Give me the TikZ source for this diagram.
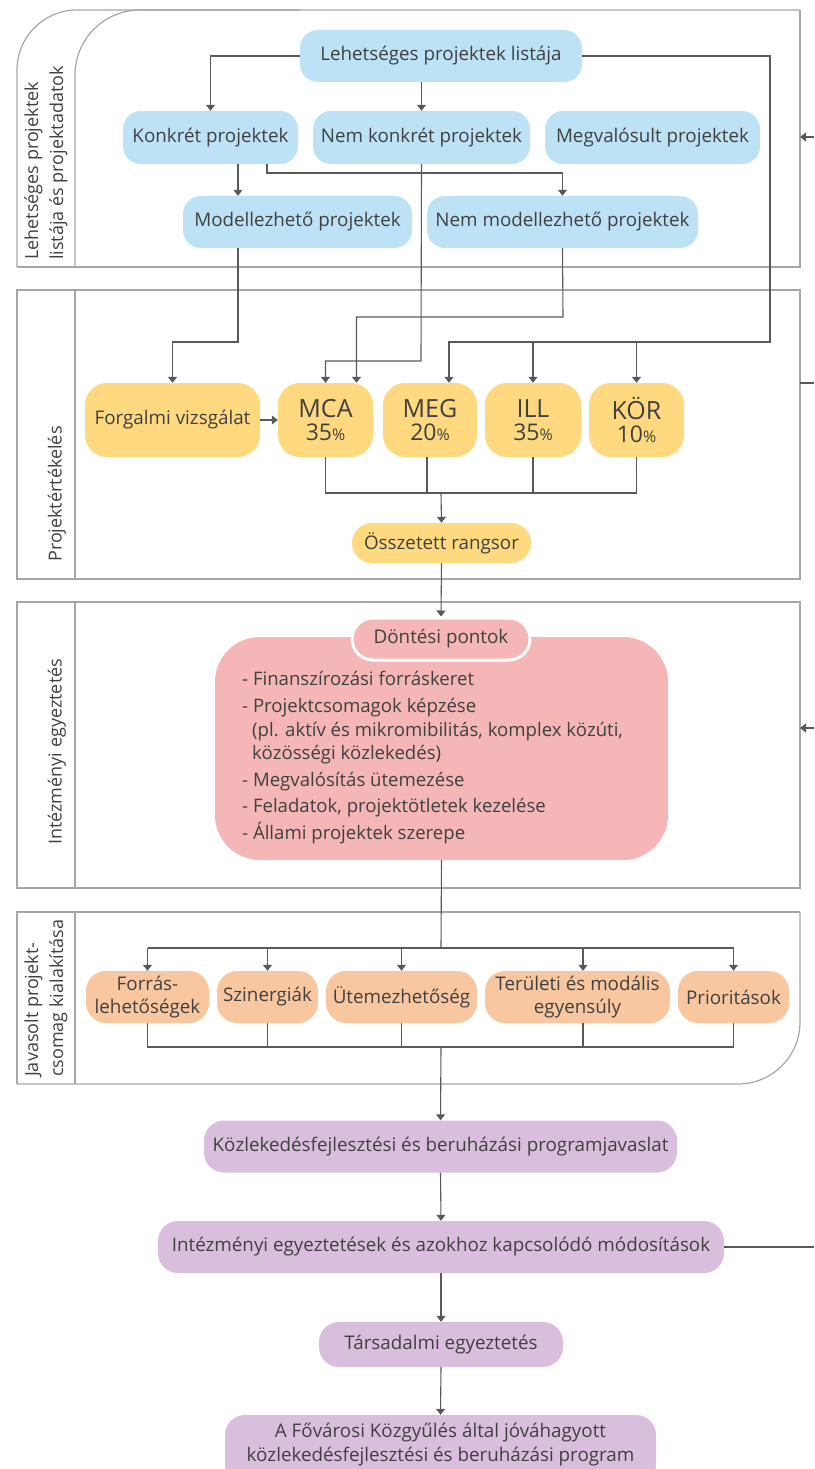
\documentclass[tikz,border=0pt]{standalone}
\usepackage{fontspec}
\setmainfont{Open Sans}
\usetikzlibrary{arrows.meta}
\definecolor{txt}{HTML}{404040}
\definecolor{blueF}{HTML}{BDE2F6}
\definecolor{yellowF}{HTML}{FFD980}
\definecolor{pinkF}{HTML}{F4B6B6}
\definecolor{orangeF}{HTML}{F8C7A0}
\definecolor{purpleF}{HTML}{D9BFDD}
\definecolor{frameC}{HTML}{A6A6A6}
\definecolor{connC}{HTML}{595959}
\newcommand\fsz[2]{\fontsize{#1}{#2}\selectfont}
\begin{document}
\begin{tikzpicture}[x=1pt,y=-1pt,
  basebox/.style={rounded corners=18, inner sep=0, align=center, text=txt, font=\fsz{18.8}{22.5}},
  bluebox/.style={basebox, fill=blueF},
  yelbox/.style={basebox, fill=yellowF, rounded corners=22},
  orbox/.style={basebox, fill=orangeF, rounded corners=20, minimum height=52},
  purbox/.style={basebox, fill=purpleF, rounded corners=20},
  framel/.style={draw=frameC, line width=1.2},
  conn/.style={draw=connC, line width=1.1, -{Triangle[width=9pt,length=6pt]}},
  line/.style={draw=connC, line width=1.1},
  lanelabel/.style={rotate=90, anchor=west, inner sep=0, align=left, text=txt, font=\fsz{18}{25}}
]
\useasboundingbox (0,0) rectangle (814,1469);
\clip (0,0) rectangle (814,1469);

% ---------- lane frames ----------
\draw[framel, rounded corners=60] (17,267) -- (17,10) -- (800,10);
\draw[framel] (800,10) -- (800,267) -- (17,267);
\draw[framel, rounded corners=65] (75,267) -- (75,10) -- (300,10);
\draw[framel] (17,290) rectangle (800,579);
\draw[framel] (75,290) -- (75,579);
\draw[framel] (17,602) rectangle (800,888);
\draw[framel] (75,602) -- (75,888);
\draw[framel] (17,1084) -- (17,912) -- (800,912);
\draw[framel, rounded corners=62] (800,912) -- (800,1084) -- (17,1084);
\draw[framel] (75,912) -- (75,1084);

% lane labels
\node[lanelabel] (lab1) at (46,260) {Lehetséges projektek\\listája és projektadatok};
\node[lanelabel] (lab2) at (57,562) {Projektértékelés};
\node[lanelabel] (lab3) at (57,845) {Intézményi egyeztetés};
\node[lanelabel] (lab4) at (46,1077) {Javasolt projekt-\\csomag kialakítása};

% ---------- nodes ----------
\node[bluebox, minimum width=282, minimum height=52] (lpl) at (441,56) {Lehetséges projektek listája};
\node[bluebox, minimum width=175, minimum height=53] (kp) at (210.5,137.5) {Konkrét projektek};
\node[bluebox, minimum width=217, minimum height=53] (nkp) at (421.5,137.5) {Nem konkrét projektek};
\node[bluebox, minimum width=215, minimum height=53] (mgp) at (652.5,137.5) {Megvalósult projektek};
\node[bluebox, minimum width=229, minimum height=52] (mp) at (297.5,222) {Modellezhető projektek};
\node[bluebox, minimum width=271, minimum height=52] (nmp) at (562.5,222) {Nem modellezhető projektek};

\node[yelbox, minimum width=175, minimum height=74] (fv) at (172.5,420) {Forgalmi vizsgálat};
\node[yelbox, minimum width=95, minimum height=74] (mca) at (325.5,420) {{\fsz{25}{32}MCA}\\{\fsz{23}{32}35{\fsz{16}{16}\%}}};
\node[yelbox, minimum width=94, minimum height=74] (meg) at (430,420) {{\fsz{25}{32}MEG}\\{\fsz{23}{32}20{\fsz{16}{16}\%}}};
\node[yelbox, minimum width=96, minimum height=74] (ill) at (533,420) {{\fsz{25}{32}ILL}\\{\fsz{23}{32}35{\fsz{16}{16}\%}}};
\node[yelbox, minimum width=95, minimum height=74] (kor) at (636.5,420) {{\fsz{25}{32}KÖR}\\{\fsz{23}{32}10{\fsz{16}{16}\%}}};
\node[yelbox, rounded corners=20, minimum width=179, minimum height=40] (ors) at (441.5,543) {Összetett rangsor};

\node[basebox, fill=pinkF, rounded corners=45, minimum width=453, minimum height=223] (pb) at (441.5,748.5) {};
\node[basebox, fill=pinkF, draw=white, line width=3, rounded corners=21, minimum width=178, minimum height=42] (dp) at (441,639) {Döntési pontok};
\node[anchor=north west, inner sep=0, align=left, text=txt, font=\fsz{18.6}{23.5}] (list) at (242,671)
  {- Finanszírozási forráskeret\\[4pt]
   - Projektcsomagok képzése\\
   \hspace*{10pt}(pl. aktív és mikromibilitás, komplex közúti,\\
   \hspace*{10pt}közösségi közlekedés)\\[3pt]
   - Megvalósítás ütemezése\\[3pt]
   - Feladatok, projektötletek kezelése\\[3pt]
   - Állami projektek szerepe};

\node[orbox, minimum width=123] (or1) at (147.5,997) {Forrás-\\lehetőségek};
\node[orbox, minimum width=101] (or2) at (267.5,997) {Szinergiák};
\node[orbox, minimum width=151] (or3) at (401.5,997) {Ütemezhetőség};
\node[orbox, minimum width=185] (or4) at (577.5,997) {Területi és modális\\egyensúly};
\node[orbox, minimum width=111] (or5) at (733.5,997) {Prioritások};

\node[purbox, minimum width=473, minimum height=52] (kfp) at (440.5,1146.5) {Közlekedésfejlesztési és beruházási programjavaslat};
\node[purbox, minimum width=566, minimum height=52] (ie) at (441,1247) {Intézményi egyeztetések és azokhoz kapcsolódó módosítások};
\node[purbox, minimum width=244, minimum height=45] (te) at (441,1344.5) {Társadalmi egyeztetés};
\node[purbox, minimum width=431, minimum height=70] (fin) at (440.5,1450) {};
\node[inner sep=0, align=center, text=txt, font=\fsz{18.8}{24}] (fint) at (440.5,1445) {A Fővárosi Közgyűlés által jóváhagyott\\közlekedésfejlesztési és beruházási program};

% ---------- helper coordinates ----------
\coordinate (c238) at (238,0);
\coordinate (c267) at (267,0);
\coordinate (c427) at (427,0);
\coordinate (c583) at (583,0);
\coordinate (rt) at (770,342);
\coordinate (j1) at (421,361);
\coordinate (j2) at (563,317);
\coordinate (j3) at (238,342);
\coordinate (k1) at (267,173);
\coordinate (megin) at ([xshift=19]meg.north);
\coordinate (mcain) at ([xshift=31]mca.north);
\coordinate (sum1) at (441,493);
\coordinate (dist) at (441,948);
\coordinate (sum2) at (441,1047);
\coordinate (fb1) at (814,137);
\coordinate (fb1e) at (800,137);
\coordinate (fb2) at (814,383);
\coordinate (fb2e) at (800,383);
\coordinate (fb3) at (814,728);
\coordinate (fb3e) at (800,728);
\coordinate (fb4) at (814,1247);

% ---------- connectors ----------
\draw[conn] (lpl.west) -| (kp.north);
\draw[conn] (lpl.south -| nkp.north) -- (nkp.north);
\draw[conn] (lpl.east) -| (rt) -- (rt -| megin) -- (megin);
\draw[conn] (ill.north |- rt) -- (ill.north);
\draw[conn] (kor.north |- rt) -- (kor.north);
\draw[conn] (nkp.south) -- (j1) -| (mca.north);
\draw[conn] (nmp.south) -- (j2) -| (mcain);
\draw[conn] (kp.south -| c238) -- (mp.north -| c238);
\draw[conn] (kp.south -| c267) -- (k1) -| (nmp.north);
\draw[conn] (mp.south -| c238) -- (j3) -| (fv.north);
\draw[conn] (fv.east) -- (mca.west);

\draw[line] (mca.south) |- (sum1);
\draw[line] (kor.south) |- (sum1);
\draw[line] (meg.south -| c427) -- (sum1 -| c427);
\draw[line] (ill.south) -- (ill.south |- sum1);
\draw[conn] (sum1) -- (ors.north);
\draw[conn] (ors.south) -- (dp.north);

\draw[line] (pb.south) -- (dist);
\draw[line] (dist -| or1.north) -- (dist -| or5.north);
\draw[conn] (dist -| or1.north) -- (or1.north);
\draw[conn] (dist -| or2.north) -- (or2.north);
\draw[conn] (dist -| or3.north) -- (or3.north);
\draw[conn] (dist -| c583) -- (or4.north -| c583);
\draw[conn] (dist -| or5.north) -- (or5.north);

\draw[line] (or1.south) |- (sum2);
\draw[line] (or5.south) |- (sum2);
\draw[line] (or2.south) -- (or2.south |- sum2);
\draw[line] (or3.south) -- (or3.south |- sum2);
\draw[line] (or4.south -| c583) -- (sum2 -| c583);
\draw[conn] (sum2) -- (kfp.north);
\draw[conn] (kfp.south) -- (ie.north);
\draw[conn] (ie.south) -- (te.north);
\draw[conn] (te.south) -- (fin.north);

% feedback connectors from the right edge
\draw[line] (ie.east) -- (fb4);
\draw[conn] (fb1) -- (fb1e);
\draw[line] (fb2) -- (fb2e);
\draw[conn] (fb3) -- (fb3e);
\end{tikzpicture}
\end{document}
